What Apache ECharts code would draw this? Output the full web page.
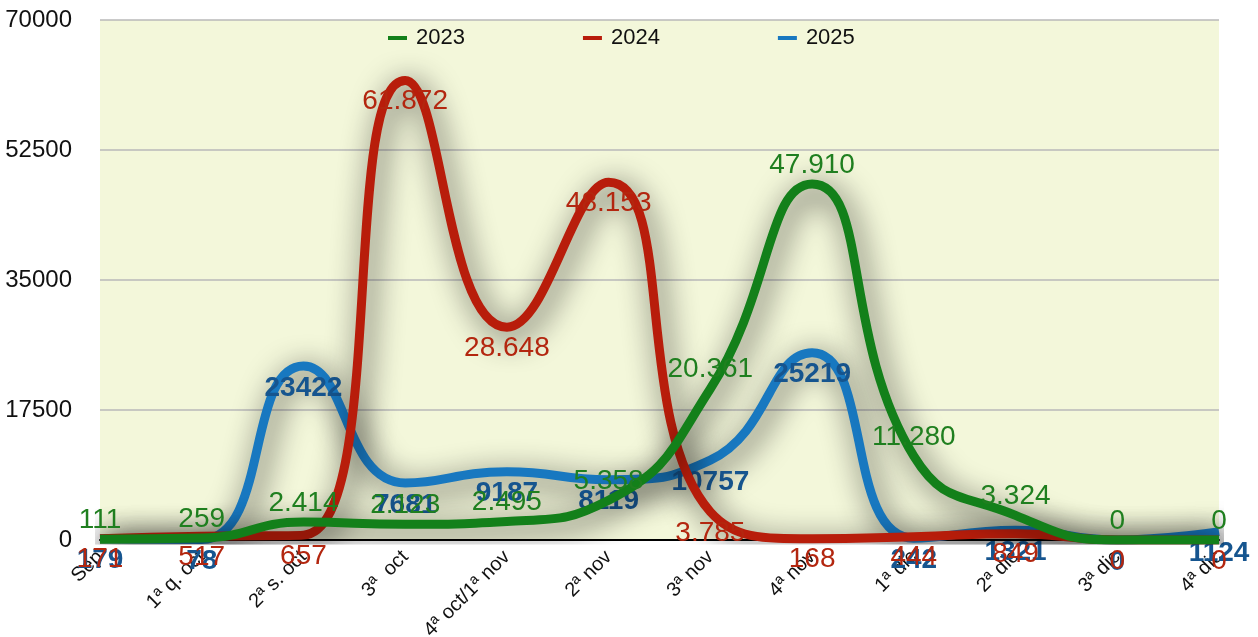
<!DOCTYPE html>
<html>
<head>
<meta charset="utf-8">
<script src="https://cdn.jsdelivr.net/npm/echarts@6/dist/echarts.min.js"></script>
<style>
html,body{margin:0;padding:0;background:#fff;}
#c{width:1258px;height:637px;}
</style>
</head>
<body>
<div id="c"></div>
<script>
const categories = ["Sep", "1ª q. oct", "2ª s. oct", "3ª  oct", "4ª oct/1ª nov", "2ª nov", "3ª nov", "4ª nov", "1ª dic", "2ª dic", "3ª dic", "4ª dic"];
const s2023 = [111, 259, 2414, 2123, 2495, 5358, 20361, 47910, 11280, 3324, 0, 0];
const s2024 = [171, 517, 657, 61872, 28648, 48153, 3785, 168, 444, 849, 0, 0];
const s2025 = [179, 78, 23422, 7681, 9187, 8119, 10757, 25219, 242, 1321, 0, 1124];
const yTicks = [0, 17500, 35000, 52500, 70000];

const dotFmt = v => {
  const s = String(Math.round(v));
  return s.replace(/\B(?=(\d{3})+(?!\d))/g, '.');
};

const shadow = {shadowColor: 'rgba(0,0,0,0.85)', shadowBlur: 30, shadowOffsetX: 5, shadowOffsetY: 7};
const FONT = 'Liberation Sans, Arial, sans-serif';

const chart = echarts.init(document.getElementById('c'));
chart.setOption({
  animation: false,
  backgroundColor: '#ffffff',
  grid: {left: 100, right: 39, top: 20, bottom: 97, show: true, backgroundColor: '#f3f7da', borderWidth: 0,
    containLabel: false, outerBoundsMode: 'none'},
  legend: {
    left: 383, top: 22,
    itemGap: 118, itemWidth: 19, itemHeight: 4, icon: 'rect',
    textStyle: {fontSize: 22, color: '#111', fontFamily: FONT, padding: [0, 0, 0, 4]},
    data: ['2023', '2024', '2025']
  },
  xAxis: {
    type: 'category', data: categories, boundaryGap: false,
    axisLine: {onZero: true, lineStyle: {color: '#000', width: 2}},
    axisTick: {show: false},
    axisLabel: {rotate: 45, fontSize: 20, color: '#111', fontFamily: FONT, margin: 14, interval: 0}
  },
  yAxis: {
    type: 'value', min: yTicks[0], max: yTicks[yTicks.length - 1], interval: 17500,
    axisLine: {show: false}, axisTick: {show: false},
    axisLabel: {fontSize: 24, color: '#111', fontFamily: FONT, margin: 28, formatter: v => String(v)},
    splitLine: {lineStyle: {color: '#b8b8b8', width: 1.5}}
  },
  series: [
    {
      name: '2023', type: 'line', data: s2023, smooth: 0.5, z: 4,
      symbol: 'circle', symbolSize: 0, showSymbol: true,
      color: '#13801a',
      lineStyle: Object.assign({width: 9, color: '#13801a'}, shadow),
      label: {show: true, position: 'top', distance: 5, fontSize: 28, color: '#1f7f1f', fontFamily: FONT,
        formatter: p => dotFmt(p.value)}
    },
    {
      name: '2024', type: 'line', data: s2024, smooth: 0.5, z: 3,
      symbol: 'circle', symbolSize: 0, showSymbol: true,
      color: '#b81d0b',
      lineStyle: Object.assign({width: 9, color: '#b81d0b'}, shadow),
      label: {show: true, position: 'bottom', distance: 7, fontSize: 28, color: '#b3260f', fontFamily: FONT,
        formatter: p => dotFmt(p.value)}
    },
    {
      name: '2025', type: 'line', data: s2025, smooth: 0.5, z: 2,
      symbol: 'circle', symbolSize: 0, showSymbol: true,
      color: '#1878c0',
      lineStyle: Object.assign({width: 9, color: '#1878c0'}, shadow),
      label: {show: true, position: 'bottom', distance: 8, fontSize: 28, fontWeight: 'bold', color: '#16558f', fontFamily: FONT,
        formatter: p => String(p.value)}
    }
  ]
});
</script>
</body>
</html>
